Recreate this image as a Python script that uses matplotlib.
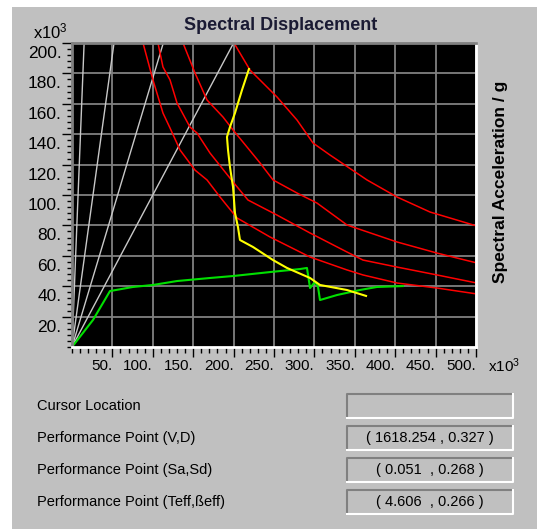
import matplotlib
matplotlib.use("Agg")
import matplotlib.pyplot as plt
from matplotlib.patches import Rectangle
from matplotlib.ticker import MultipleLocator, FixedLocator
from matplotlib.transforms import ScaledTranslation

plt.rcParams['font.family'] = ['Liberation Sans', 'DejaVu Sans']
plt.rcParams['mathtext.default'] = 'regular'

# values in units of x10^3 (as the axes show)
period_top_x = [15, 52, 113, 200]          # period lines from origin, x where they reach Sa=200

demand_a_x = [200.5, 220.3, 253.7, 278.5, 298.3, 319.3, 365.1, 402.2, 443.1, 501]
demand_a_y = [200, 182.2, 164.5, 149.3, 134.2, 126.3, 109.9, 98.7, 88.8, 79.6]
demand_b_x = [137.4, 152.2, 167.1, 186.9, 199.3, 232.7, 248.8, 278.5, 303.2, 340.3, 347.8, 402.2, 451.7, 501]
demand_b_y = [200, 180.3, 162.5, 151.3, 142.8, 121.1, 109.9, 101.3, 94.7, 80.3, 78.9, 69.1, 61.8, 55.3]
demand_c_x = [106.4, 112.6, 121.3, 130, 146, 154.7, 170.8, 199.3, 217.8, 253.7, 294.6, 340.3, 360.1, 402.2, 451.7, 501]
demand_c_y = [200, 184.2, 175.7, 160.5, 144.7, 140.8, 127.6, 108.6, 96.7, 86.8, 75, 62.5, 57.2, 52.6, 47.4, 42.1]
demand_d_x = [87.9, 100.2, 112.6, 121.3, 133.7, 152.2, 167.1, 183.2, 204.2, 245, 294.6, 340.3, 360.1, 402.2, 451.7, 501]
demand_d_y = [200, 175.7, 153.9, 144.1, 129.6, 116.4, 109.9, 98.7, 84.9, 72.4, 59.2, 50.7, 47.4, 42.1, 38.8, 34.9]

adrs_x = [219, 210.4, 201.7, 195.5, 191.8, 193.1, 195.5, 199.3, 200.5, 201.7, 205.4, 207.9, 224, 248.8,
          266.1, 294.6, 306.9, 340.3, 363.9]
adrs_y = [182.9, 169.1, 153.9, 144.7, 138.2, 129.6, 118.4, 105.3, 96.7, 88.2, 78.9, 70.4, 65.8, 57.2,
          52, 45.4, 40.8, 37.5, 33.6]

capacity_x = [0, 26, 47, 75.5, 100.2, 130, 170.8, 199.3, 245, 282.2, 290.8, 294.6, 300.7, 304.5,
              306.9, 328, 356.4, 377.5, 409.7]
capacity_y = [0, 17.8, 36.8, 39.5, 40.8, 43.4, 45.4, 46.7, 49.3, 51.3, 52, 38.8, 42.8, 39.5,
              30.9, 34.2, 37.5, 39.5, 40.1]

info_labels = ["Cursor Location", "Performance Point (V,D)",
               "Performance Point (Sa,Sd)", "Performance Point (Teff,\u00dfeff)"]
info_values = ["", "( 1618.254 , 0.327 )", "( 0.051  , 0.268 )", "( 4.606  , 0.266 )"]

W, H = 537, 529
fig = plt.figure(figsize=(W / 100, H / 100), dpi=100, facecolor='white')

# grey dialog panel
fig.patches.append(Rectangle((12 / W, 0), 1 - 12 / W, 1 - 7 / H, transform=fig.transFigure,
                             facecolor='#c0c0c0', edgecolor='none', zorder=-10))

ax = fig.add_axes([72 / W, 1 - 347 / H, 404 / W, 304 / H])
ax.set_zorder(2)
ax.set_facecolor('black')
ax.set_xlim(0, 500)
ax.set_ylim(0, 200)

ax.xaxis.set_major_locator(FixedLocator(range(50, 501, 50)))
ax.xaxis.set_minor_locator(MultipleLocator(10))
ax.yaxis.set_major_locator(FixedLocator(range(20, 201, 20)))
ax.yaxis.set_minor_locator(MultipleLocator(4))
ax.set_xticklabels([f"{v}." for v in range(50, 501, 50)], ha='right', fontsize=11)
ax.set_yticklabels([f"{v}." for v in range(20, 201, 20)], fontsize=12.5)
ax.tick_params(axis='x', which='major', length=7.5, width=1, pad=1, color='black')
ax.tick_params(axis='x', which='minor', length=4, width=1, color='black')
ax.tick_params(axis='y', which='major', length=7, width=1, pad=0.5, color='black')
ax.tick_params(axis='y', which='minor', length=3.5, width=1, color='black')

# the y labels sit a little below their ticks in the original
shift = ScaledTranslation(0, -9 / 100, fig.dpi_scale_trans)
for lbl in ax.get_yticklabels():
    lbl.set_transform(lbl.get_transform() + shift)

ax.grid(True, which='major', color='#808080', linewidth=1.3)
ax.set_axisbelow(True)
for side, col in [('top', '#808080'), ('left', '#808080'), ('bottom', 'white'), ('right', 'white')]:
    ax.spines[side].set_color(col)
    ax.spines[side].set_linewidth(2)

for xt in period_top_x:
    ax.plot([0, xt], [0, 200], color='#c8c8c8', linewidth=1)

for dx, dy in [(demand_a_x, demand_a_y), (demand_b_x, demand_b_y),
               (demand_c_x, demand_c_y), (demand_d_x, demand_d_y)]:
    ax.plot(dx, dy, color='#ff0000', linewidth=1.1, clip_on=True)

ax.plot(capacity_x, capacity_y, color='#00e000', linewidth=1.5)
ax.plot(adrs_x, adrs_y, color='#ffff00', linewidth=1.5)

fig.text(281 / W, 1 - 25 / H, "Spectral Displacement", ha='center', va='center',
         fontsize=13, fontweight='bold', color='#1a1a33')
fig.text(501 / W, 1 - 182 / H, "Spectral Acceleration / g", ha='center', va='center',
         rotation=90, fontsize=12.5, fontweight='bold', color='black')
fig.text(33 / W, 1 - 31 / H, r"x10$^3$", ha='left', va='center', fontsize=12)
fig.text(488 / W, 1 - 366 / H, r"x10$^3$", ha='left', va='center', fontsize=11)

row_y = [406, 438, 470, 502]
for lab, val, yc in zip(info_labels, info_values, row_y):
    fig.text(37 / W, 1 - yc / H, lab, ha='left', va='center', fontsize=10.5)
    x0, x1 = 347, 513
    y0, y1 = yc - 12, yc + 12
    fig.patches.append(Rectangle((x0 / W, 1 - y1 / H), (x1 - x0) / W, (y1 - y0) / H,
                                 transform=fig.transFigure, facecolor='#c0c0c0',
                                 edgecolor='none', zorder=1))
    # sunken border: dark top/left, white bottom/right
    fig.lines.append(plt.Line2D([x0 / W, x0 / W, x1 / W], [1 - y1 / H, 1 - y0 / H, 1 - y0 / H],
                                transform=fig.transFigure, color='#808080', linewidth=1.5))
    fig.lines.append(plt.Line2D([x0 / W, x1 / W, x1 / W], [1 - y1 / H, 1 - y1 / H, 1 - y0 / H],
                                transform=fig.transFigure, color='white', linewidth=1.5))
    fig.text((x0 + x1) / 2 / W, 1 - yc / H, val, ha='center', va='center', fontsize=10.5)

fig.savefig("out.png", dpi=100, facecolor=fig.get_facecolor())
